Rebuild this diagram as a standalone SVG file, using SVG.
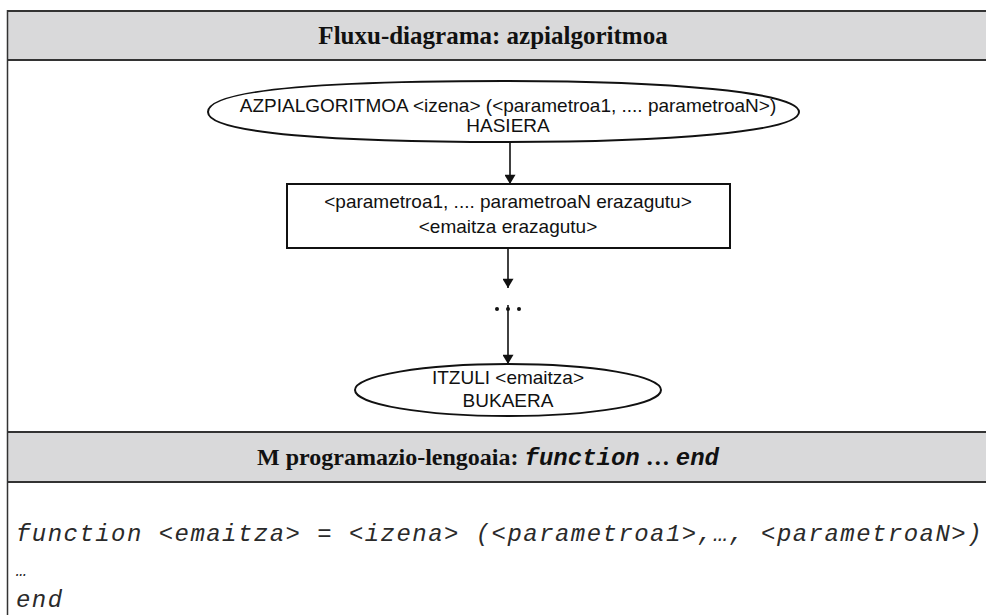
<svg xmlns="http://www.w3.org/2000/svg" width="986" height="615" viewBox="0 0 986 615">
  <style>
    .band { fill: #d9d9da; }
    .rule { stroke: #333333; stroke-width: 2; fill: none; }
    .head { font-family: "Liberation Serif", "Times New Roman", serif; font-weight: bold; fill: #111; text-anchor: middle; }
    .mono { font-family: "Liberation Mono", "Courier New", monospace; font-style: italic; }
    .shape { fill: #ffffff; stroke: #111111; stroke-width: 2; }
    .lbl { font-family: "Liberation Sans", Arial, sans-serif; font-size: 19px; fill: #111; text-anchor: middle; }
    .flow { stroke: #111111; stroke-width: 1.6; fill: none; }
    .code { font-family: "Liberation Mono", "Courier New", monospace; font-style: italic; font-size: 24px; letter-spacing: 1.45px; fill: #2a2a2a; }
  </style>
  <defs>
    <marker id="arrow" viewBox="0 0 10 12" refX="10" refY="6" markerWidth="12" markerHeight="11" markerUnits="userSpaceOnUse" orient="auto">
      <path d="M0,0 L10,6 L0,12 z" fill="#111111"/>
    </marker>
  </defs>

  <!-- table frame -->
  <rect class="band" x="7" y="11" width="985" height="49"/>
  <rect class="band" x="7" y="432" width="985" height="50"/>
  <line class="rule" x1="7" y1="11" x2="986" y2="11"/>
  <line class="rule" x1="7" y1="60" x2="986" y2="60"/>
  <line class="rule" x1="7" y1="432" x2="986" y2="432"/>
  <line class="rule" x1="7" y1="482" x2="986" y2="482"/>
  <line class="rule" x1="7.5" y1="10" x2="7.5" y2="615" style="stroke-width:1.5"/>

  <!-- header rows -->
  <text class="head" x="493" y="44" font-size="25">Fluxu-diagrama: azpialgoritmoa</text>
  <text class="head" x="488" y="465" font-size="24">M programazio-lengoaia: <tspan class="mono">function</tspan> … <tspan class="mono">end</tspan></text>

  <!-- connectors -->
  <g id="connectors">
    <line class="flow" x1="510" y1="142" x2="510" y2="184" marker-end="url(#arrow)"/>
    <line class="flow" x1="508" y1="248" x2="508" y2="288" marker-end="url(#arrow)"/>
    <line class="flow" x1="508" y1="305" x2="508" y2="364" marker-end="url(#arrow)"/>
    <g fill="#111111">
      <circle cx="497" cy="309" r="2"/>
      <circle cx="508" cy="309" r="2"/>
      <circle cx="519" cy="309" r="2"/>
    </g>
  </g>

  <!-- start terminal: flattened oval with tapered ends -->
  <g id="start">
    <path class="shape" d="M208,112 C208,88 340,81 503.5,81 C667,81 799,92 799,112 C799,132 667,142 503.5,142 C340,142 208,134 208,112 Z"/>
    <text class="lbl" x="508" y="112">AZPIALGORITMOA &lt;izena&gt; (&lt;parametroa1, .... parametroaN&gt;)</text>
    <text class="lbl" x="508" y="132">HASIERA</text>
  </g>

  <!-- declaration process -->
  <g id="declare">
    <rect class="shape" x="287" y="184" width="443" height="64"/>
    <text class="lbl" x="508" y="208">&lt;parametroa1, .... parametroaN erazagutu&gt;</text>
    <text class="lbl" x="508" y="233">&lt;emaitza erazagutu&gt;</text>
  </g>

  <!-- end terminal -->
  <g id="finish">
    <ellipse class="shape" cx="508" cy="390" rx="153" ry="26"/>
    <text class="lbl" x="508" y="384">ITZULI &lt;emaitza&gt;</text>
    <text class="lbl" x="508" y="407">BUKAERA</text>
  </g>

  <!-- code body -->
  <text class="code" x="16" y="541">function &lt;emaitza&gt; = &lt;izena&gt; (&lt;parametroa1&gt;,…, &lt;parametroaN&gt;)</text>
  <text class="code" x="16" y="576" style="font-size:18px;letter-spacing:0">…</text>
  <text class="code" x="16" y="607">end</text>
</svg>
